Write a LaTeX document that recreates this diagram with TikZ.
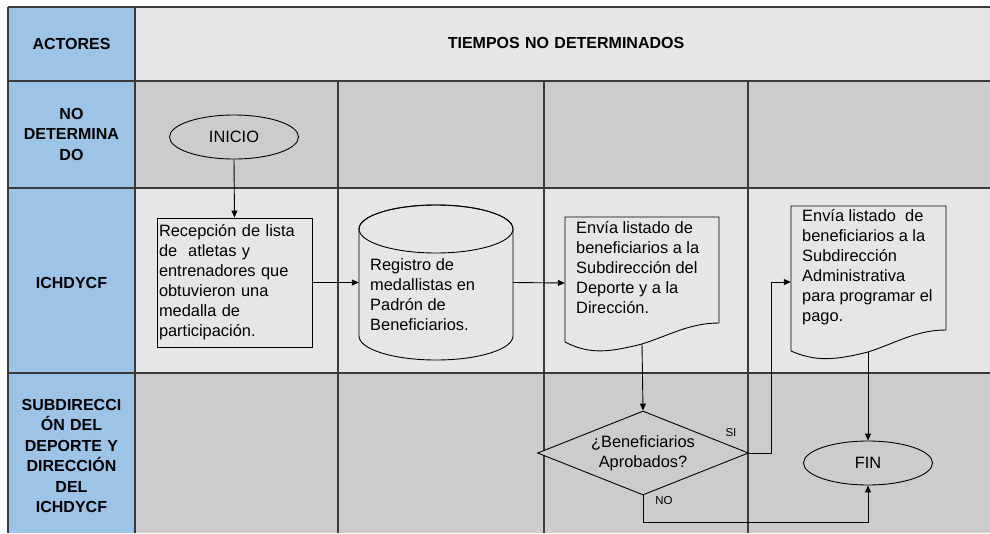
\documentclass[tikz,border=0pt]{standalone}
\usepackage{fontspec}
\setmainfont{Liberation Sans}
\usetikzlibrary{arrows.meta,shapes.geometric}
\definecolor{actblue}{HTML}{9DC3E6}
\definecolor{lgray}{HTML}{E6E6E6}
\definecolor{dgray}{HTML}{CCCCCC}
\definecolor{gridc}{HTML}{3A3A3A}
\begin{document}
\begin{tikzpicture}[x=1pt,y=-1pt,
 gridline/.style={draw=gridc,line width=1.3pt},
 actor/.style={font=\fontsize{16}{20.5}\selectfont\bfseries, align=center, text width=125pt, inner sep=0pt},
 body/.style={font=\fontsize{16.4}{20}\selectfont},
 shapeline/.style={draw=black,line width=0.9pt},
 conn/.style={draw=black,line width=0.9pt},
 arr/.style={conn,-{Triangle[length=7pt,width=6pt]}},
 smalllbl/.style={font=\fontsize{11.5}{13}\selectfont, inner sep=0pt},
 terminal/.style={ellipse, shapeline, fill=dgray, minimum width=129pt, minimum height=44pt, inner sep=0pt, body},
 anchorbox/.style={inner sep=0pt, draw=none}
]
\useasboundingbox (0,0) rectangle (990,533);
\fill[white] (0,0) rectangle (990,533);
% backgrounds
\fill[actblue] (8,7) rectangle (135,533);
\fill[lgray] (135,7) rectangle (990,81);
\fill[dgray] (135,81) rectangle (990,188);
\fill[lgray] (135,188) rectangle (990,373);
\fill[dgray] (135,373) rectangle (990,533);
% grid
\foreach \yy in {7,81,188,373} \draw[gridline] (8,\yy) -- (990,\yy);
\draw[gridline] (8,7) -- (8,533);
\draw[gridline] (135,7) -- (135,533);
\foreach \xx in {338,544,748} \draw[gridline] (\xx,81) -- (\xx,533);
% actor labels
\node[actor] (act1) at (71.5,44) {ACTORES};
\node[actor] (act2) at (71.5,134) {NO\\DETERMINA\\DO};
\node[actor] (act3) at (71.5,283) {ICHDYCF};
\node[actor] (act4) at (71.5,456) {SUBDIRECCI\\ÓN DEL\\DEPORTE Y\\DIRECCIÓN\\DEL\\ICHDYCF};
\node[actor, text width=400pt] (hdr) at (566,43) {TIEMPOS NO DETERMINADOS};
% INICIO
\node[terminal] (ini) at (234,137) {INICIO};
% box 1
\node[shapeline, fill=lgray, minimum width=155pt, minimum height=129pt, text width=151pt, inner sep=2pt, align=left, body] (box1) at (234.5,282.5)
 {Recepción de lista\\de~~atletas y\\entrenadores que\\obtuvieron una\\medalla de\\participación.};
% cylinder
\node[anchorbox, minimum width=154pt, minimum height=155pt] (cyl) at (436,282.5) {};
\filldraw[shapeline, fill=lgray] (359,229) -- (359,336) arc[start angle=180, end angle=0, x radius=77, y radius=24]
 -- (513,229) arc[start angle=0, end angle=-180, x radius=77, y radius=24] -- cycle;
\draw[shapeline] (436,229) ellipse[x radius=77, y radius=24];
\node[anchor=west, align=left, body, inner sep=0pt] (cylt) at (370,295) {Registro de\\medallistas en\\Padrón de\\Beneficiarios.};
% document 1
\node[anchorbox, minimum width=154pt, minimum height=132pt] (doc1) at (642,283) {};
\filldraw[shapeline, fill=lgray] (565,217) -- (719,217) -- (719,323)
 .. controls (690,323) and (670,335) .. (642,344)
 .. controls (610,352) and (590,355) .. (565,342) -- cycle;
\coordinate (d1b) at (642,344);
\node[anchor=west, align=left, body, inner sep=0pt] (doc1t) at (576,268) {Envía listado de\\beneficiarios a la\\Subdirección del\\Deporte y a la\\Dirección.};
% document 2
\node[anchorbox, minimum width=155pt, minimum height=152pt] (doc2) at (868.5,282) {};
\filldraw[shapeline, fill=lgray] (791,206) -- (946,206) -- (946,330)
 .. controls (916,330) and (896,343) .. (868,352)
 .. controls (836,360) and (816,362) .. (791,351) -- cycle;
\coordinate (d2b) at (868,352);
\node[anchor=west, align=left, body, inner sep=0pt] (doc2t) at (802,267) {Envía listado~~de\\beneficiarios a la\\Subdirección\\Administrativa\\para programar el\\pago.};
% decision
\node[diamond, shapeline, fill=dgray, aspect=2.5, minimum width=211pt, minimum height=84pt, inner sep=0pt, align=center, body] (dec) at (643,453) {¿Beneficiarios\\Aprobados?};
% FIN
\node[terminal] (fin) at (868,463) {FIN};
% connectors
\draw[arr] (ini.south) -- (box1.north);
\draw[arr] (box1.east) -- (cyl.west);
\draw[arr] (cyl.east) -- (doc1.west);
\draw[arr] (d1b) -- (dec.north);
\draw[arr] (dec.east) -- ++(22,0) |- (doc2.west);
\draw[arr] (d2b) -- (fin.north);
\draw[arr] (dec.south) -- ++(0,27) -| (fin.south);
\node[smalllbl] (silbl) at (731,433) {SI};
\node[smalllbl] (nolbl) at (664,501) {NO};
\end{tikzpicture}
\end{document}
